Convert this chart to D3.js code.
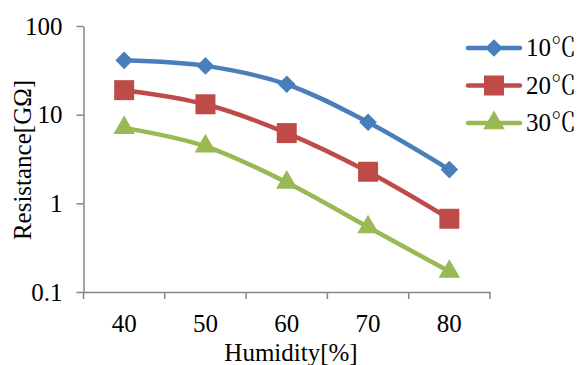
<!DOCTYPE html>
<html>
<head>
<meta charset="utf-8">
<script src="https://cdn.jsdelivr.net/npm/d3@7"></script>
<style>
  body { margin: 0; background: #fff; }
  text { font-family: "Liberation Serif", "Times New Roman", serif; fill: #000; }
</style>
</head>
<body>
<svg id="chart" width="581" height="365"></svg>
<script>
// humidity categories
var humidity = ["40", "50", "60", "70", "80"];
// resistance in G-ohm
var r10 = [41, 35.5, 22, 8.2, 2.4];
var r20 = [18.9, 13.1, 6.2, 2.27, 0.67];
var r30 = [7.1, 4.4, 1.72, 0.54, 0.17];
var seriesNames = ["10", "20", "30"];
var yTicks = [0.1, 1, 10, 100];

var colors = ["#4A7EBB", "#BE4B48", "#98B954"];
var shapes = [d3.symbolSquare, d3.symbolSquare, d3.symbolTriangle];
var sizes = [155, 400, 200];
var rotations = [45, 0, 0];

var series = [r10, r20, r30].map(function(vals, i) {
    return {name: seriesNames[i], values: vals, color: colors[i], shape: shapes[i], size: sizes[i], rot: rotations[i]};
});

var svg = d3.select("#chart");

var x = d3.scaleBand().domain(humidity).range([83.5, 490]);
var y = d3.scaleLog().domain([0.1, 100]).range([292, 26]);

// axes
var xAxis = svg.append("g")
    .attr("transform", "translate(0,292)")
    .call(d3.axisBottom(x).tickSize(0).tickPadding(22));
xAxis.attr("font-family", null);
xAxis.select(".domain").attr("stroke", "#868686").attr("stroke-width", 1.5);
xAxis.selectAll("text").style("font-size", "25px").style("font-family", "Liberation Serif");

// x tick marks sit between the categories
var edges = humidity.map(function(h) { return x(h); }).concat([x.range()[1]]);
svg.append("g").selectAll("line")
    .data(edges)
    .enter().append("line")
    .attr("x1", function(d) { return d; })
    .attr("x2", function(d) { return d; })
    .attr("y1", 292).attr("y2", 299)
    .attr("stroke", "#868686").attr("stroke-width", 1.5);

var yAxis = svg.append("g")
    .attr("transform", "translate(83.5,0)")
    .call(d3.axisLeft(y).tickValues(yTicks).tickFormat(function(d) { return d; }).tickSize(7).tickPadding(14).tickSizeOuter(0));
yAxis.attr("font-family", null);
yAxis.select(".domain").attr("stroke", "#868686").attr("stroke-width", 1.5);
yAxis.selectAll(".tick line").attr("stroke", "#868686").attr("stroke-width", 1.5);
yAxis.selectAll("text").style("font-size", "25px").style("font-family", "Liberation Serif");

// axis titles
svg.append("text")
    .attr("x", 291).attr("y", 361)
    .attr("text-anchor", "middle")
    .style("font-size", "25px")
    .text("Humidity[%]");

svg.append("text")
    .attr("transform", "translate(31,160) rotate(-90)")
    .attr("text-anchor", "middle")
    .style("font-size", "25px")
    .text("Resistance[G\u03A9]");

// lines
var line = d3.line()
    .x(function(d, i) { return x(humidity[i]) + x.bandwidth() / 2; })
    .y(function(d) { return y(d); })
    .curve(d3.curveCatmullRom.alpha(0.5));

series.forEach(function(s) {
    svg.append("path")
        .datum(s.values)
        .attr("d", line)
        .attr("fill", "none")
        .attr("stroke", s.color)
        .attr("stroke-width", 4.5)
        .attr("stroke-linecap", "round");

    svg.append("g").selectAll("path")
        .data(s.values)
        .enter().append("path")
        .attr("transform", function(d, i) {
            return "translate(" + (x(humidity[i]) + x.bandwidth() / 2) + "," + y(d) + ") rotate(" + s.rot + ")";
        })
        .attr("d", d3.symbol().type(s.shape).size(s.size))
        .attr("fill", s.color);
});

// legend
var legend = svg.append("g");
series.forEach(function(s, i) {
    var ly = 48 + i * 37.5;
    legend.append("line")
        .attr("x1", 468).attr("x2", 520)
        .attr("y1", ly).attr("y2", ly)
        .attr("stroke", s.color).attr("stroke-width", 4.5)
        .attr("stroke-linecap", "round");
    legend.append("path")
        .attr("transform", "translate(494," + ly + ") rotate(" + s.rot + ")")
        .attr("d", d3.symbol().type(s.shape).size(s.size))
        .attr("fill", s.color);
    var t = legend.append("text")
        .attr("x", 526).attr("y", ly + 8)
        .style("font-size", "25px");
    t.append("tspan").text(s.name);
    t.append("tspan").style("font-family", "Noto Serif CJK SC").text("\u2103");
});
</script>
</body>
</html>
